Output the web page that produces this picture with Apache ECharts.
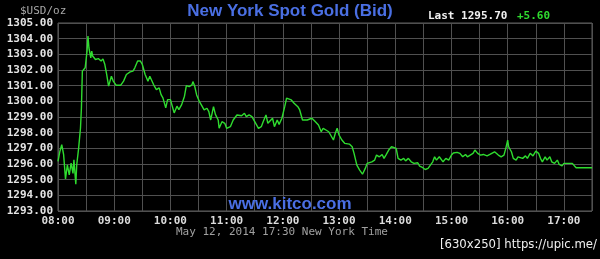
<!DOCTYPE html>
<html><head><meta charset="utf-8">
<script src="https://cdn.jsdelivr.net/npm/echarts@6/dist/echarts.min.js"></script>
<style>html,body{margin:0;padding:0;background:#000;}#c{width:600px;height:259px;}</style>
</head><body><div id="c"></div>
<script>
// minutes after 08:00 (New York time)
const minutes = [0,2,4,6,8,10,12,14,16,17,19,20,22,24,25,26,29,30,31,32,33,35,36,37,40,43,46,48,50,52,54,57,59,62,64,67,70,73,77,80,82,85,88,90,93,96,98,100,102,104,105,108,110,112,115,117,120,122,124,127,129,132,135,137,140,143,144,146,148,151,153,156,159,161,163,166,168,171,172,175,178,180,184,187,191,193,196,199,201,204,207,210,214,217,219,222,224,226,229,231,234,236,239,242,244,246,249,252,256,258,261,263,266,268,271,274,278,281,283,286,289,291,294,296,298,300,303,306,308,311,314,316,319,322,325,328,330,332,335,338,340,343,346,348,350,353,356,358,361,363,366,369,371,374,377,380,384,386,389,392,395,397,400,402,404,407,409,411,414,417,420,422,424,426,429,432,435,437,440,443,445,448,451,454,458,461,463,466,468,470,473,476,478,480,481,484,486,489,491,493,496,499,501,504,507,510,513,515,517,520,522,525,527,530,533,535,538,540,543,549,551,553,561,570];
// spot gold bid, USD/oz
const prices = [1296.16,1296.80,1297.23,1296.60,1295.05,1295.95,1295.30,1296.06,1295.40,1296.27,1294.71,1295.95,1297.00,1298.30,1299.58,1301.93,1302.14,1302.25,1303.20,1304.17,1303.42,1302.78,1303.20,1302.89,1302.67,1302.73,1302.57,1302.71,1302.35,1301.71,1300.97,1301.60,1301.29,1301.03,1301.11,1301.03,1301.29,1301.71,1301.88,1301.93,1302.14,1302.57,1302.57,1302.35,1301.71,1301.29,1301.60,1301.60,1301.07,1300.97,1300.75,1300.86,1300.43,1300.22,1299.58,1300.11,1300.11,1299.69,1299.26,1299.69,1299.47,1299.79,1300.33,1301.00,1300.94,1301.05,1301.26,1300.94,1300.41,1299.98,1299.77,1299.45,1299.56,1299.34,1298.81,1299.66,1299.17,1298.81,1298.28,1298.70,1298.60,1298.28,1298.38,1298.81,1299.13,1299.17,1299.08,1299.24,1299.02,1299.13,1299.02,1298.70,1298.28,1298.38,1298.70,1299.13,1298.60,1298.49,1298.92,1298.38,1298.81,1298.53,1298.92,1299.66,1300.20,1300.30,1300.09,1299.88,1299.66,1299.45,1298.81,1298.70,1298.81,1298.70,1298.92,1298.75,1298.49,1298.06,1298.28,1298.17,1298.06,1297.85,1297.53,1297.96,1298.28,1297.85,1297.53,1297.32,1297.21,1297.27,1297.10,1296.68,1295.93,1295.61,1295.35,1295.72,1296.04,1295.93,1296.14,1296.25,1296.57,1296.46,1296.61,1296.36,1296.57,1296.89,1297.10,1297.14,1297.00,1296.36,1296.25,1296.36,1296.20,1296.36,1296.14,1296.04,1296.08,1295.86,1295.78,1295.65,1295.72,1295.82,1296.14,1296.46,1296.25,1296.46,1296.57,1296.14,1296.36,1296.25,1296.57,1296.70,1296.61,1296.74,1296.68,1296.46,1296.61,1296.46,1296.57,1296.68,1296.89,1296.68,1296.57,1296.61,1296.52,1296.61,1296.52,1296.78,1296.89,1296.57,1296.46,1296.57,1297.00,1297.53,1297.10,1296.78,1296.36,1296.25,1296.46,1296.40,1296.36,1296.52,1296.36,1296.68,1296.52,1296.82,1296.68,1296.36,1296.14,1296.46,1296.25,1296.46,1296.14,1296.04,1296.25,1295.97,1295.88,1296.04,1296.04,1296.04,1295.97,1295.76,1295.76,1295.76];
const hourLabels = ['08:00','09:00','10:00','11:00','12:00','13:00','14:00','15:00','16:00','17:00'];
const titleText = 'New York Spot Gold (Bid)';
const unitText = '$USD/oz';
const lastText = 'Last 1295.70';
const changeText = '+5.60';
const dateText = 'May 12, 2014 17:30 New York Time';
const siteText = 'www.kitco.com';
const stampText = '[630x250] https://upic.me/';

const chart = echarts.init(document.getElementById('c'), null, {renderer:'canvas'});
const mono = 'DejaVu Sans Mono';
const gridColor = '#505050';
chart.setOption({
  backgroundColor:'#000',
  animation:false,
  grid:{left:58, top:23, width:534, height:188, show:true, borderColor:'#5e5e5e', borderWidth:1, backgroundColor:'transparent'},
  xAxis:{type:'value', min:0, max:570, interval:30,
    axisLine:{show:false}, axisTick:{show:false},
    splitLine:{show:true, lineStyle:{color:gridColor, width:1}},
    axisLabel:{color:'#dcdcdc', fontFamily:mono, fontWeight:'bold', fontSize:11, margin:5,
      showMinLabel:true, showMaxLabel:true,
      formatter:v => (v % 60 === 0 && hourLabels[v/60]) ? hourLabels[v/60] : ''}
  },
  yAxis:{type:'value', min:1293, max:1305, interval:1,
    axisLine:{show:false}, axisTick:{show:false},
    splitLine:{show:true, lineStyle:{color:gridColor, width:1}},
    axisLabel:{color:'#e4e4e4', fontFamily:mono, fontWeight:'bold', fontSize:11, margin:5,
      formatter:v => v.toFixed(2)}
  },
  series:[{type:'line', data:minutes.map((m,i)=>[m,prices[i]]), showSymbol:false,
    lineStyle:{color:'#2fdc2f', width:1.4}, z:5}],
  graphic:[
    {type:'text', x:290, y:11, style:{text:titleText, fill:'#4a6fe3', font:'bold 17px "Liberation Sans", Arial', textAlign:'center', textVerticalAlign:'middle'}},
    {type:'text', x:20, y:11, style:{text:unitText, fill:'#a8a8a8', font:'11px "DejaVu Sans Mono"', textAlign:'left', textVerticalAlign:'middle'}},
    {type:'text', x:428, y:16, style:{text:lastText, fill:'#f0f0f0', font:'bold 11px "DejaVu Sans Mono"', textAlign:'left', textVerticalAlign:'middle'}},
    {type:'text', x:517, y:16, style:{text:changeText, fill:'#2fdc2f', font:'bold 11px "DejaVu Sans Mono"', textAlign:'left', textVerticalAlign:'middle'}},
    {type:'text', x:290, y:204, z:10, style:{text:siteText, fill:'#4a6fe3', font:'bold 17px "Liberation Sans", Arial', textAlign:'center', textVerticalAlign:'middle'}},
    {type:'text', x:176, y:232, style:{text:dateText, fill:'#a0a0a0', font:'11px "DejaVu Sans Mono"', textAlign:'left', textVerticalAlign:'middle'}},
    {type:'text', x:597, y:245, style:{text:stampText, fill:'#f0f0f0', font:'13px "DejaVu Sans Condensed"', textAlign:'right', textVerticalAlign:'middle'}}
  ]
});
</script></body></html>
